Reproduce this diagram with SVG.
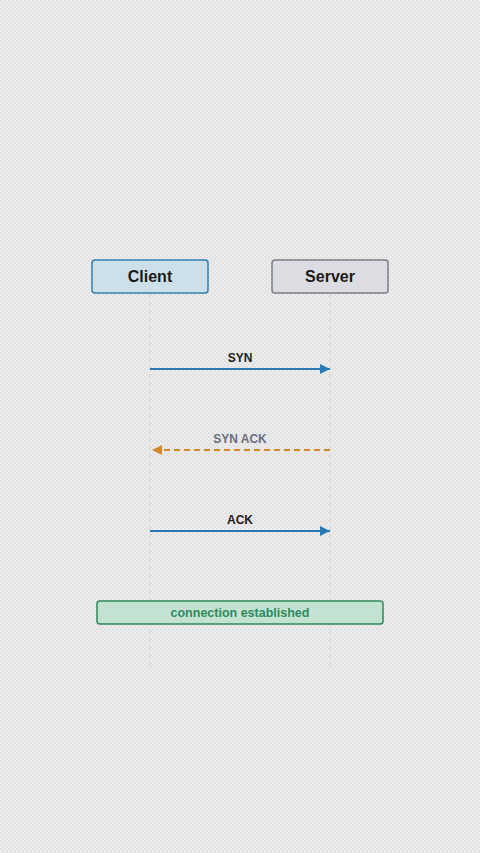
<svg xmlns="http://www.w3.org/2000/svg" width="480" height="853" viewBox="0 0 480 853">
<defs>
<pattern id="chk" width="4" height="4" patternUnits="userSpaceOnUse">
<rect width="4" height="4" fill="#ededed"/>
<rect width="2" height="2" fill="#e1e1e1"/>
<rect x="2" y="2" width="2" height="2" fill="#e1e1e1"/>
</pattern>
<marker id="ab" viewBox="0 0 10 10" refX="10" refY="5" markerWidth="10" markerHeight="10" markerUnits="userSpaceOnUse" orient="auto">
<path d="M0,0 L10,5 L0,10 z" fill="#2a7bb5"/>
</marker>
<marker id="ao" viewBox="0 0 10 10" refX="10" refY="5" markerWidth="10" markerHeight="10" markerUnits="userSpaceOnUse" orient="auto">
<path d="M0,0 L10,5 L0,10 z" fill="#d4892a"/>
</marker>
</defs>
<style>
.t{font-family:"Liberation Sans",Arial,sans-serif;font-weight:bold;text-anchor:middle}
.lab{font-size:12px;fill:#1e1e1e}
.life{stroke:#d2d2d2;stroke-width:1.2;stroke-dasharray:4 4;fill:none}
</style>
<rect width="480" height="853" fill="url(#chk)"/>
<g id="lifelines">
<line class="life" x1="150" y1="294" x2="150" y2="668"/>
<line class="life" x1="330" y1="294" x2="330" y2="668"/>
</g>
<g id="client">
<rect x="92" y="260" width="116" height="33" rx="3" fill="#cde0ea" stroke="#2e7fb0" stroke-width="1.5"/>
<text class="t" x="150" y="282" font-size="16" fill="#1a1a1a">Client</text>
</g>
<g id="server">
<rect x="272" y="260" width="116" height="33" rx="3" fill="#dcdde2" stroke="#7a7d88" stroke-width="1.5"/>
<text class="t" x="330" y="282" font-size="16" fill="#1a1a1a">Server</text>
</g>
<g id="connectors">
<line x1="150" y1="369" x2="330" y2="369" stroke="#2a7bb5" stroke-width="2" marker-end="url(#ab)"/>
<text class="t lab" x="240" y="362">SYN</text>
<line x1="330" y1="450" x2="152" y2="450" stroke="#d4892a" stroke-width="2" stroke-dasharray="6 4" marker-end="url(#ao)"/>
<text class="t lab" x="240" y="443" style="fill:#6b6f80">SYN ACK</text>
<line x1="150" y1="531" x2="330" y2="531" stroke="#2a7bb5" stroke-width="2" marker-end="url(#ab)"/>
<text class="t lab" x="240" y="524">ACK</text>
</g>
<g id="established">
<rect x="97" y="601" width="286" height="23" rx="3" fill="#c4e2d2" stroke="#2e8b5a" stroke-width="1.5"/>
<text class="t" x="240" y="617" font-size="12.5" fill="#2e8a5e">connection established</text>
</g>
</svg>
